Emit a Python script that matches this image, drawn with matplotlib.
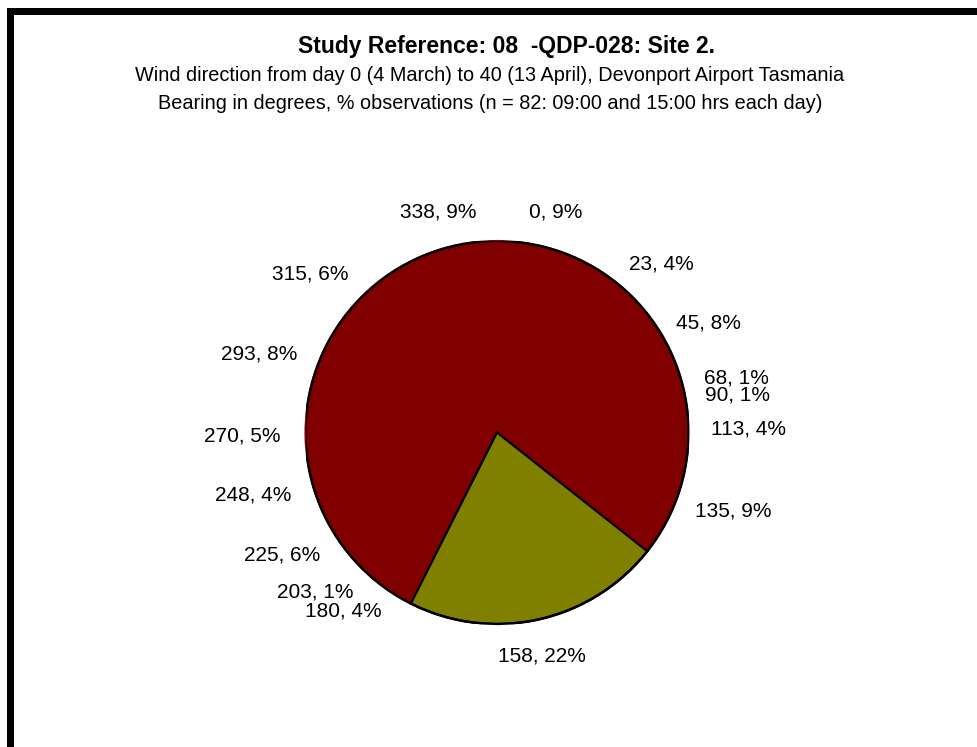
import numpy as np
import matplotlib
matplotlib.use("Agg")
import matplotlib.pyplot as plt
from matplotlib.patches import Rectangle

plt.rcParams['font.family'] = ['Liberation Sans', 'DejaVu Sans']

# Wind bearings (degrees) and share of observations (%)
bearings = [0, 23, 45, 68, 90, 113, 135, 158, 180, 203, 225, 248, 270, 293, 315, 338]
percent = [9, 4, 8, 1, 1, 4, 9, 22, 4, 1, 6, 4, 5, 8, 6, 9]
highlight = 158

title = "Study Reference: 08  -QDP-028: Site 2."
subtitle = ("Wind direction from day 0 (4 March) to 40 (13 April), Devonport Airport Tasmania\n"
            "Bearing in degrees, % observations (n = 82: 09:00 and 15:00 hrs each day)")

# label placement: angular nudge (deg, clockwise) and distance from centre (in radii)
label_nudge = [-1, 5, 2, 0.5, 1, 0, -4, 1, 7, 6, 5, 2.6, 0, -4, -7, 1]
label_dist = [1.19, 1.23, 1.245, 1.28, 1.27, 1.315, 1.30, 1.19, 1.23, 1.265, 1.29, 1.315, 1.33, 1.31, 1.28, 1.19]

W, H = 978, 747
fig = plt.figure(figsize=(W / 100, H / 100), dpi=100)

# frame lines along the top and left
fig.add_artist(Rectangle((7 / W, 0), 7 / W, (H - 8) / H, transform=fig.transFigure,
                         facecolor='black', edgecolor='none'))
fig.add_artist(Rectangle((7 / W, (H - 15) / H), (W - 7) / W, 7 / H, transform=fig.transFigure,
                         facecolor='black', edgecolor='none'))

fig.text(507 / W, 1 - 46.5 / H, title, ha='center', va='center', fontsize=16.5, fontweight='bold')
fig.text(490 / W, 1 - 89.5 / H, subtitle, ha='center', va='center', fontsize=14.3,
         linespacing=1.55)

cx, cy, r = 497, 432.5, 191.5
ax = fig.add_axes([(cx - r) / W, (H - cy - r) / H, 2 * r / W, 2 * r / H])

colors = ['#808000' if b == highlight else '#800000' for b in bearings]
wedges, _ = ax.pie(percent, colors=colors, startangle=90, counterclock=False,
                   radius=1, wedgeprops=dict(linewidth=0))
ax.set_xlim(-1, 1)
ax.set_ylim(-1, 1)
ax.set_aspect('auto')
ax.axis('off')

for w, b in zip(wedges, bearings):
    if b == highlight:
        w.set_edgecolor('black')
        w.set_linewidth(1.6)
        w.set_zorder(3)
    else:
        w.set_edgecolor(w.get_facecolor())
        w.set_linewidth(1.5)

# outline of the whole pie
ax.add_patch(plt.Circle((0, 0), 1, fill=False, edgecolor='black', linewidth=1.8, zorder=4))

total = sum(percent)
cum = np.cumsum([0] + percent[:-1])
for i, (b, p) in enumerate(zip(bearings, percent)):
    mid = (cum[i] + p / 2) / total * 360 + label_nudge[i]
    th = np.deg2rad(mid)
    x, y = label_dist[i] * np.sin(th), label_dist[i] * np.cos(th)
    ax.text(x, y, f"{b}, {p}%", ha='center', va='center', fontsize=15, clip_on=False)

fig.savefig("out.png", dpi=100, facecolor='white')
